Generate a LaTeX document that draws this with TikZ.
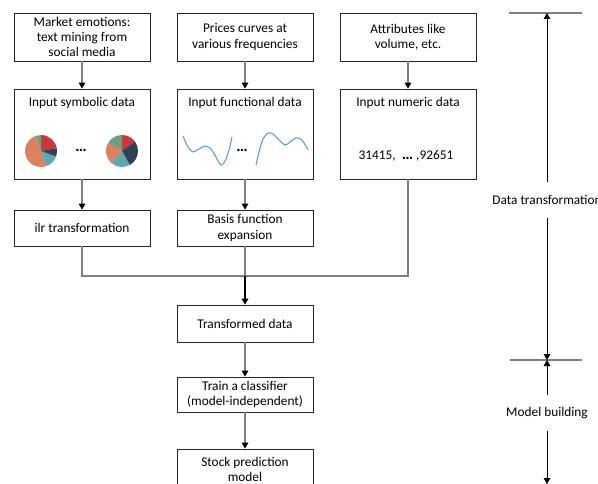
\documentclass[tikz,border=0pt]{standalone}
\usepackage{fontspec}
\setmainfont{Carlito}
\usetikzlibrary{arrows.meta, positioning}
\definecolor{pieRed}{HTML}{C9383A}
\definecolor{pieNavy}{HTML}{2D4254}
\definecolor{pieTeal}{HTML}{5FA8AE}
\definecolor{pieSalmon}{HTML}{DB8260}
\definecolor{pieGreen}{HTML}{6E9F82}
\definecolor{curveBlue}{HTML}{5B9BD5}
\definecolor{lineGray}{HTML}{808080}
\tikzset{
		stagebox/.style = {draw=black!85, line width=0.6pt, minimum width=102pt, inner sep=1pt, align=center},
		sourcebox/.style = {stagebox, minimum height=36pt},
		inputbox/.style = {stagebox, minimum height=67.5pt},
		stepbox/.style = {stagebox, minimum height=27pt},
		flow/.style = {draw=lineGray, line width=0.8pt, -{Triangle[width=5pt,length=4.5pt,color=black]}},
		mainflow/.style = {draw=black, line width=1pt, -{Triangle[width=5pt,length=4.5pt]}},
		link/.style = {draw=lineGray, line width=0.8pt},
		phase/.style = {minimum height=26pt, inner sep=0pt},
		scalemark/.style = {draw=lineGray, line width=1pt},
		scalearrow/.style = {draw=black, line width=0.6pt, -{Triangle[width=5pt,length=4.5pt]}}
	}

\begin{document}
\begin{tikzpicture}[x=0.75pt, y=-0.75pt, node distance = 122.25pt, font=\fontsize{10}{11.5}\selectfont]
				\useasboundingbox (0,0) rectangle (598,484);

				\node[sourcebox] (emo)   at (82,37)           {Market emotions:\\text mining from\\social media};
				\node[sourcebox] (price) [right of = emo]     {Prices curves at\\various frequencies};
				\node[sourcebox] (attr)  [right of = price]   {Attributes like\\volume, etc.};

				\node[inputbox]  (sym)   [below of = emo,   node distance = 72.75pt] {};
				\node[inputbox]  (func)  [below of = price, node distance = 72.75pt] {};
				\node[inputbox]  (num)   [below of = attr,  node distance = 72.75pt] {};
				\node[inner sep=0pt] (symTitle)  [below = 6pt of sym.north]  {Input symbolic data};
				\node[inner sep=0pt] (funcTitle) [below = 6pt of func.north] {Input functional data};
				\node[inner sep=0pt] (numTitle)  [below = 6pt of num.north]  {Input numeric data};

				\node[stepbox]   (ilr)   [below of = sym,   node distance = 70.5pt]    {ilr transformation};
				\node[stepbox]   (basis) [below of = func,  node distance = 70.5pt]    {Basis function\\expansion};
				\coordinate      (join)  at ([yshift=-36pt]basis.center);
				\node[stepbox, minimum height=27.75pt] (trans) [below of = basis, node distance = 71.625pt] {Transformed data};
				\node[stepbox, minimum height=26.25pt] (train) [below of = trans, node distance = 53.25pt]  {Train a classifier\\(model-independent)};
				\node[stepbox, minimum height=30.75pt] (stock) [below of = train, node distance = 56.25pt]  {Stock prediction\\model};

				\foreach \a/\b/\c in {10/90/pieRed, 90/110/pieGreen, 110/290/pieSalmon, 290/340/pieTeal, 340/370/pieNavy}
					\fill[\c] (41,151) -- ++(\a:12pt) arc[start angle=\a, end angle=\b, radius=12pt] -- cycle;
				\foreach \a/\b/\c in {35/90/pieRed, 90/150/pieGreen, 150/230/pieSalmon, 230/300/pieTeal, 300/395/pieNavy}
					\fill[\c] (122,151) -- ++(\a:12pt) arc[start angle=\a, end angle=\b, radius=12pt] -- cycle;
				\node (symDots) at (81,150) {\textbf{\large\ldots}};

				\draw[curveBlue, line width=0.8pt] plot[smooth] coordinates {(183,136) (188,147) (193,152) (199,149) (205,146) (211,149) (217,159) (221,165) (225,161) (229,150) (232,137)};
				\draw[curveBlue, line width=0.8pt] plot[smooth] coordinates {(256,165) (259,152) (263,139) (268,133) (273,134) (278,139) (285,145) (290,142) (296,138) (302,140) (308,150)};
				\node (funcDots) at (242,150) {\textbf{\large\ldots}};

				\node (numValues) at (406,156) {31415,~~\textbf{\large\ldots}~,92651};

				\path[flow] (emo)   edge (sym);
				\path[flow] (price) edge (func);
				\path[flow] (attr)  edge (num);
				\path[flow] (sym)   edge (ilr);
				\path[flow] (func)  edge (basis);
				\draw[link] (ilr)   |- (join);
				\draw[link] (num)   |- (join);
				\draw[link] (basis) -- (join);
				\draw[mainflow] (join) -- (trans);
				\path[flow] (trans) edge (train);
				\path[flow] (train) edge (stock);

				\coordinate (topMark)   at (547,13);
				\coordinate (splitMark) at (547,360);
				\coordinate (endMark)   at (547,484);
				\node[phase] (dataPhase)  at (547,200) {Data transformation};
				\node[phase] (modelPhase) at (547,413) {Model building};
				\draw[scalemark] ([xshift=-28.5pt]topMark)   -- ([xshift=26.25pt]topMark);
				\draw[scalemark] ([xshift=-27.75pt]splitMark) -- ([xshift=26.25pt]splitMark);
				\draw[scalearrow] (dataPhase)  -- (topMark);
				\draw[scalearrow] (dataPhase)  -- (splitMark);
				\draw[scalearrow] (modelPhase) -- (splitMark);
				\draw[scalearrow] (modelPhase) -- (endMark);
			\end{tikzpicture}
\end{document}
